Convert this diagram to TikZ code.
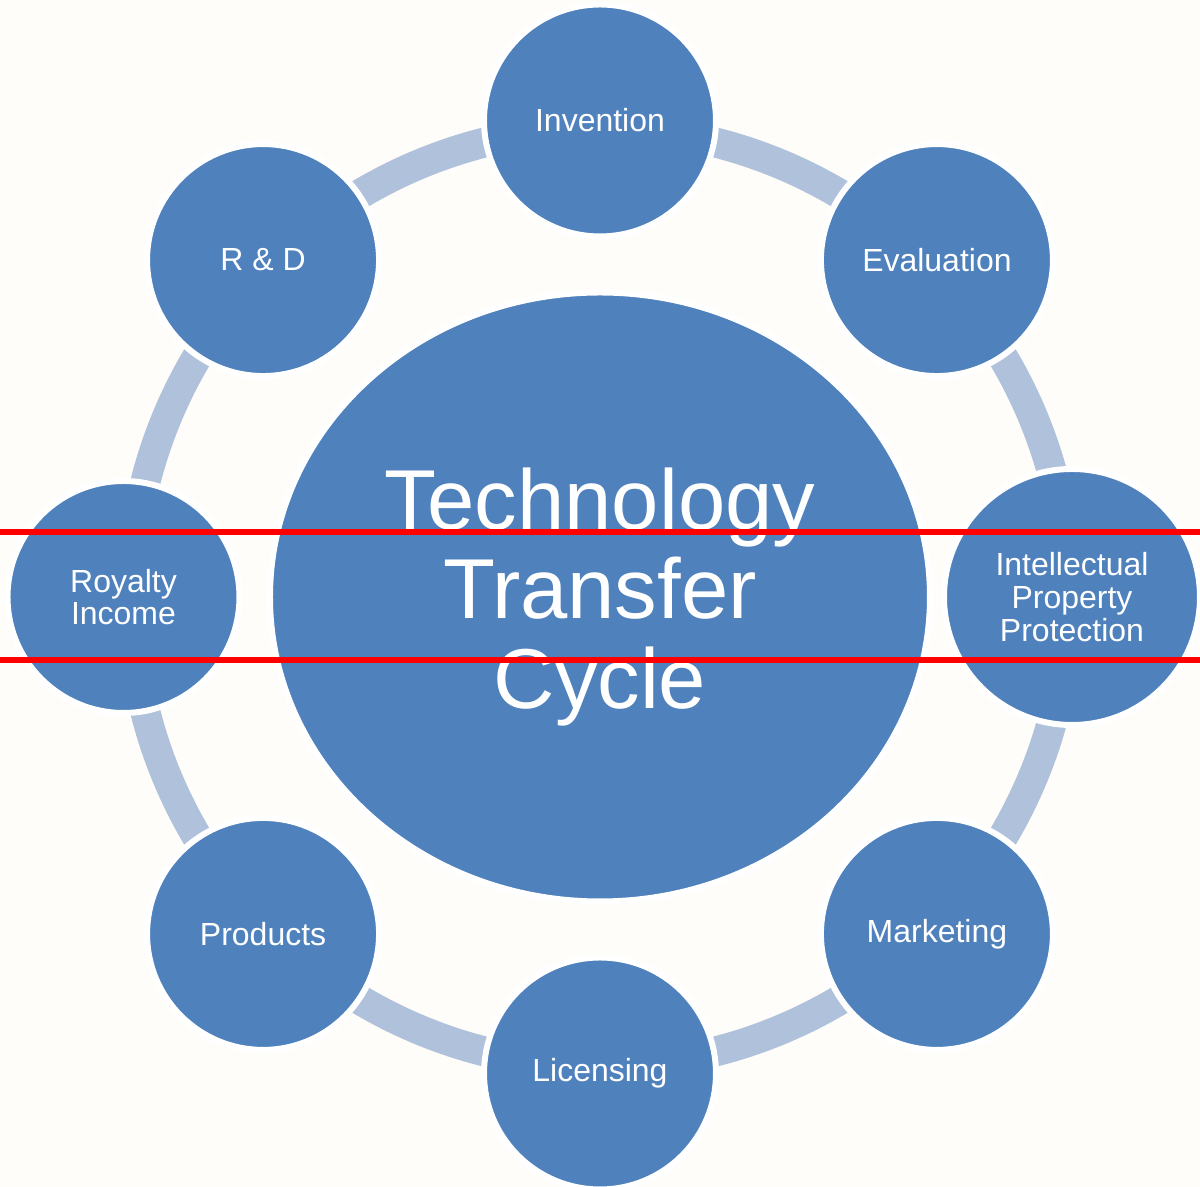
\documentclass[tikz,border=0pt]{standalone}
\usepackage{fontspec}
\setmainfont{Liberation Sans}
\usetikzlibrary{shapes.geometric}
\usetikzlibrary{backgrounds}

\definecolor{paper}{HTML}{FEFDF9}
\definecolor{stageblue}{HTML}{4F81BD}
\definecolor{ringblue}{HTML}{B0C1DC}

\tikzset{
  stage/.style={circle,fill=stageblue,draw=white,line width=0.06cm,
    minimum size=2.32cm,inner sep=0pt,align=center,text=white,
    font=\fontsize{9.1}{9.3}\selectfont},
  hub/.style={ellipse,fill=stageblue,draw=white,line width=0.06cm,
    minimum width=6.60cm,minimum height=6.09cm,inner sep=0pt,align=center,
    text=white,font=\fontsize{24.2}{25.4}\selectfont},
  ring/.style={draw=ringblue,line width=0.30cm},
  marker/.style={draw=red,line width=0.06cm}
}

\begin{document}
\begin{tikzpicture}[]
    \useasboundingbox (-6,-5.90) rectangle (6,5.97);

    % Centre
    \node (hub) [hub] at (0,0) {Technology\\Transfer\\Cycle};

    % Stages
    \foreach \nm/\ang/\rad/\size/\txt in {inv/90/4.765/2.32/Invention,
        eval/45/4.765/2.32/Evaluation,
        ipp/0/4.72/2.56/{Intellectual\\Property\\Protection},
        mkt/-45/4.765/2.32/Marketing, lic/-90/4.765/2.32/Licensing,
        prod/-135/4.765/2.32/Products, roy/180/4.765/2.32/{Royalty\\Income},
        rnd/135/4.765/2.32/{R \& D}}
    {
      \coordinate (\nm-r) at (\ang:4.69);
      \node (\nm) [stage,minimum size=\size cm] at (\ang:\rad) {\txt};
    };

    % Ring
    \begin{scope}[on background layer]
      \fill [paper] (-6,-5.90) rectangle (6,5.97);
      \foreach \a/\b in {inv/eval, eval/ipp, ipp/mkt, mkt/lic, lic/prod,
          prod/roy, roy/rnd, rnd/inv}
      {
        \draw [ring] (\a-r) to [bend left=22.5,looseness=0.885] (\b-r);
      };
    \end{scope}

    % Red lines
    \draw [marker] (-6,0.65) -- (6,0.65);
    \draw [marker] (-6,-0.635) -- (6,-0.635);
\end{tikzpicture}
\end{document}
